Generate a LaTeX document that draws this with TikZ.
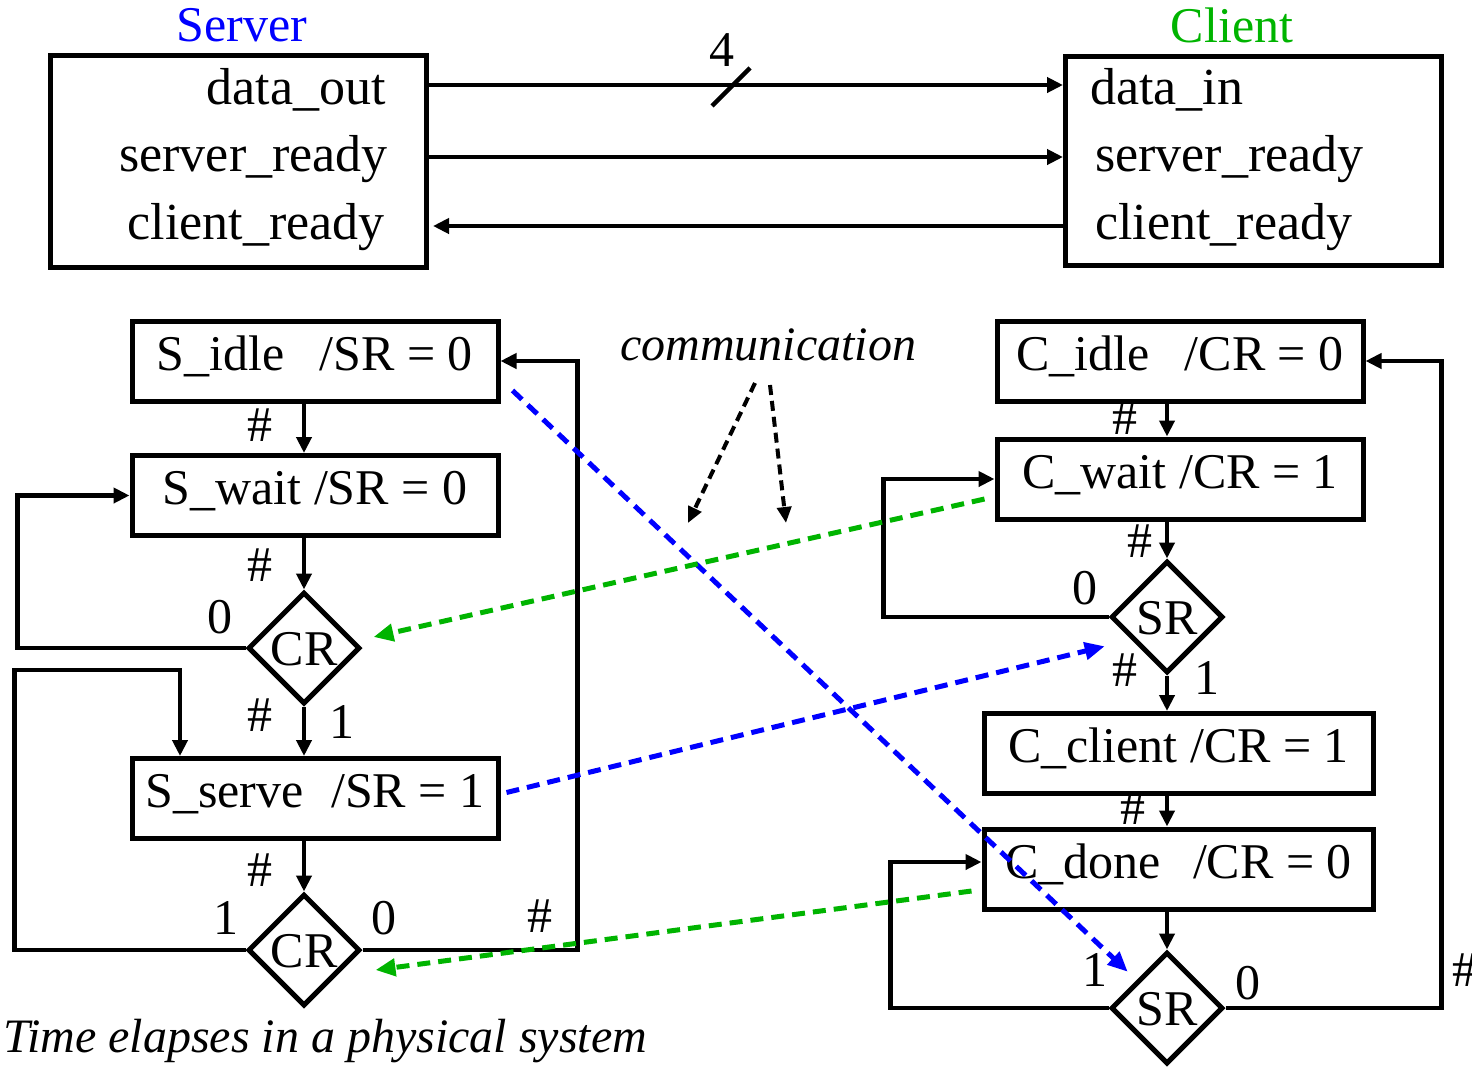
\documentclass[tikz,border=0pt]{standalone}
\usepackage{fontspec}
\setmainfont{Liberation Serif}
\usetikzlibrary{arrows.meta,shapes.geometric,calc}

\definecolor{srvblue}{RGB}{0,0,255}
\definecolor{cligreen}{RGB}{0,180,0}

\begin{document}
\begin{tikzpicture}[x=1pt,y=-1pt,
  every node/.style={font=\fontsize{50}{60}\selectfont, inner sep=0pt},
  state/.style={draw, line width=5pt, minimum width=366pt, minimum height=80pt,
                text height=30pt, text depth=12pt},
  decision/.style={draw, diamond, line width=5pt, minimum width=112pt,
                   minimum height=112pt, text height=34pt, text depth=0pt},
  block/.style={draw, line width=5pt},
  flow/.style={line width=4.5pt, -{Triangle[length=16pt,width=15pt]}},
  sig/.style={line width=5pt, dash pattern=on 13pt off 8pt,
              -{Triangle[length=20pt,width=17pt]}},
  note/.style={line width=4pt, dash pattern=on 10pt off 6pt,
               -{Triangle[length=16pt,width=14pt]}},
  port/.style={font=\fontsize{52}{62}\selectfont},
  lbl/.style={}
]
\useasboundingbox (0,0) rectangle (1472,1066);

% ---- interface of the two blocks ----
\node[block, minimum width=376pt, minimum height=212pt] (sbox) at (238.5,161.5) {};
\node[block, minimum width=376pt, minimum height=209pt] (cbox) at (1253.5,161) {};
\node[text=srvblue] (stitle) at (242,25) {Server};
\node[text=cligreen] (ctitle) at (1232,25) {Client};

\node[port, anchor=base east] (sdo) at (386,104) {data\_out};
\node[port, anchor=base east] (ssr) at (388,171) {server\_ready};
\node[port, anchor=base east] (scr) at (385,239) {client\_ready};
\node[port, anchor=base west] (cdi) at (1090,104) {data\_in};
\node[port, anchor=base west] (csr) at (1095,171) {server\_ready};
\node[port, anchor=base west] (ccr) at (1095,239) {client\_ready};

\draw[flow] ($(sbox.north east)+(0,32)$) -- ($(cbox.north west)+(0,31)$);
\draw[flow] ($(sbox.north east)+(0,104)$) -- ($(cbox.north west)+(0,103)$);
\draw[flow] ($(cbox.north west)+(0,172)$) -- ($(sbox.north east)+(4,173)$);
% bus width mark
\draw[line width=4.5pt] (712,106) -- (750,68);
\node (buswidth) at (722,50) {4};

% ---- server state machine ----
\node[state] (sidle) at (315,361) {S\_idle\hspace{0.45em} /SR = 0};
\node[state] (swait) at (315,495.5) {S\_wait /SR = 0};
\node[decision] (cr1) at (304,648) {CR};
\node[state] (sserve) at (315,798.5) {S\_serve\hspace{0.3em} /SR = 1};
\node[decision] (cr2) at (304,950) {CR};

\draw[flow] (sidle.south -| cr1.north) -- (swait.north -| cr1.north);
\draw[flow] (swait.south -| cr1.north) -- (cr1.north);
\draw[flow] (cr1.south) -- (sserve.north -| cr1.south);
\draw[flow] (sserve.south -| cr2.north) -- (cr2.north);
\draw[flow] (cr1.west) -- ++(-228,0) |- (swait.west);
\coordinate (loopin) at (180,670);
\draw[flow] (cr2.west) -- ++(-231,0) |- (loopin) -- (loopin |- sserve.north);
\draw[flow] (cr2.east) -- ++(215,0) |- (sidle.east);

\node[lbl] (sh1) at (260,425) {\#};
\node[lbl] (sh2) at (260,565) {\#};
\node[lbl] (sh3) at (260,715) {\#};
\node[lbl] (sh4) at (260,870) {\#};
\node[lbl] (sh5) at (540,916) {\#};
\node[lbl] (s0a) at (220,617) {0};
\node[lbl] (s1a) at (342,722) {1};
\node[lbl] (s1b) at (226,918) {1};
\node[lbl] (s0b) at (384,918) {0};

% ---- client state machine ----
\node[state] (cidle) at (1180,361) {C\_idle\hspace{0.45em} /CR = 0};
\node[state] (cwait) at (1180,479) {C\_wait /CR = 1};
\node[decision] (sr1) at (1167,617) {SR};
\node[state, minimum width=389pt] (cclient) at (1178.5,753.5) {C\_client /CR = 1};
\node[state, minimum width=389pt] (cdone) at (1178.5,869) {C\_done\hspace{0.4em} /CR = 0};
\node[decision] (sr2) at (1167,1008) {SR};

\draw[flow] (cidle.south -| sr1.north) -- (cwait.north -| sr1.north);
\draw[flow] (cwait.south -| sr1.north) -- (sr1.north);
\draw[flow] (sr1.south) -- (cclient.north -| sr1.south);
\draw[flow] (cclient.south -| sr2.north) -- (cdone.north -| sr2.north);
\draw[flow] (cdone.south -| sr2.north) -- (sr2.north);
\draw[flow] (sr1.west) -- ++(-225,0) |- (cwait.west);
\draw[flow] (sr2.west) -- ++(-218,0) |- ([shift={(0,-7)}]cdone.west);
\draw[flow] (sr2.east) -- ++(216,0) |- (cidle.east);

\node[lbl] (ch1) at (1125,418) {\#};
\node[lbl] (ch2) at (1140,541) {\#};
\node[lbl] (ch3) at (1125,670) {\#};
\node[lbl] (ch4) at (1133,808) {\#};
\node[lbl] (ch5) at (1465,970) {\#};
\node[lbl] (c0a) at (1085,588) {0};
\node[lbl] (c1a) at (1207,678) {1};
\node[lbl] (c1b) at (1095,970) {1};
\node[lbl] (c0b) at (1248,983) {0};

% ---- signals exchanged between the machines ----
\draw[sig, srvblue] ([shift={(12,-13)}]sidle.south east) -- ([shift={(-10,-7)}]sr2.north west);
\draw[sig, srvblue] ([shift={(6,-6)}]sserve.east) -- ([shift={(-33,0)}]sr1.south west);
\draw[sig, cligreen] ([shift={(-10,20)}]cwait.west) -- ([shift={(11,-11)}]cr1.east);
\draw[sig, cligreen] ([shift={(-10,22)}]cdone.west) -- ([shift={(13,20)}]cr2.east);

\node[anchor=base, font=\fontsize{48}{58}\selectfont\itshape] (comm) at (768,360) {communication};
\coordinate (commA) at (688,523);
\coordinate (commB) at (786,523);
\draw[note] ([shift={(-13,23)}]comm.base) -- (commA);
\draw[note] ([shift={(2,25)}]comm.base) -- (commB);

\node[anchor=base west, font=\fontsize{48}{58}\selectfont\itshape] (caption) at (3,1052)
  {Time elapses in a physical system};
\end{tikzpicture}
\end{document}
